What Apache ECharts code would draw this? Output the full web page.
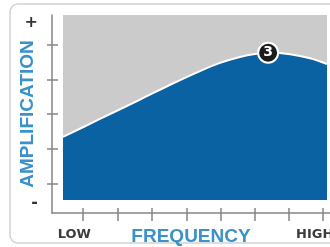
<!DOCTYPE html>
<html>
<head>
<meta charset="utf-8">
<script src="https://cdn.jsdelivr.net/npm/echarts@6/dist/echarts.min.js"></script>
<style>
  html, body { margin: 0; padding: 0; background: #fff; }
  #chart { width: 330px; height: 247px; }
</style>
</head>
<body>
<div id="chart"></div>
<script>
  // response curve, x = frequency (0..100), y = amplification (0..100)
  var freqX = [0, 14.0, 29.2, 42.4, 51.9, 59.5, 67.0, 72.7, 78.4, 86.0, 93.6, 100]
  var ampY = [34.1, 43.8, 54.3, 63.5, 69.7, 74.1, 77.3, 78.9, 79.6, 78.8, 76.6, 73.5]
  var peakPoint = [77.7, 79.6]
  var peakLabel = '3'

  var xTicks = [11, 23.5, 36, 48.5, 60.75, 73, 85.25, 97.5]
  var yTicks = [15, 32.5, 50, 67.5, 85]
  var xLabelPos = [8, 94.5]
  var xLabelText = ['LOW', 'HIGH']
  var yLabelPos = [5, 96]
  var yLabelText = ['-', '+']

  var axisGray = '#858585'
  var nameBlue = '#3a92c8'

  var chart = echarts.init(document.getElementById('chart'))

  var curve = freqX.map(function (x, i) { return [x, ampY[i]] })

  chart.setOption({
    backgroundColor: '#fff',
    animation: false,
    graphic: [{
      type: 'rect',
      z: -10,
      shape: { x: 10, y: 4, width: 340, height: 239, r: 8 },
      style: { fill: '#fff', stroke: '#d2d2d2', lineWidth: 1.5 }
    }],
    grid: [
      { left: 52, right: 0, top: 15, bottom: 34, outerBoundsMode: 'none', containLabel: false },
      { left: 63, right: 3, top: 15, bottom: 47, outerBoundsMode: 'none', containLabel: false,
        show: true, backgroundColor: '#cbcbcb', borderWidth: 0 }
    ],
    xAxis: [
      {
        gridIndex: 0, type: 'value', min: 0, max: 100, position: 'bottom',
        splitLine: { show: false },
        axisLine: { show: true, lineStyle: { color: axisGray, width: 1.5 } },
        axisTick: { show: true, inside: false, length: 8, customValues: xTicks, lineStyle: { color: axisGray, width: 1.5 } },
        axisLabel: {
          show: true, customValues: xLabelPos, margin: 15,
          color: '#3c3c3c', fontWeight: 'bold', fontSize: 13, fontFamily: 'DejaVu Sans',
          formatter: function (v) { return xLabelText[xLabelPos.indexOf(v)] }
        },
        name: 'FREQUENCY', nameLocation: 'middle', nameGap: 14, nameMoveOverlap: false,
        nameTextStyle: { color: nameBlue, fontWeight: 'bold', fontSize: 19, fontFamily: 'Liberation Sans', verticalAlign: 'top' }
      },
      {
        gridIndex: 0, type: 'value', min: 0, max: 100, position: 'bottom', offset: 0,
        splitLine: { show: false },
        axisLine: { show: false },
        axisTick: { show: true, inside: true, length: 5, customValues: xTicks, lineStyle: { color: axisGray, width: 1.5 } },
        axisLabel: { show: false }
      },
      {
        gridIndex: 1, type: 'value', min: 0, max: 100, show: false
      }
    ],
    yAxis: [
      {
        gridIndex: 0, type: 'value', min: 0, max: 100, position: 'left',
        splitLine: { show: false },
        axisLine: { show: true, lineStyle: { color: axisGray, width: 1.5 } },
        axisTick: { show: true, inside: false, length: 5, customValues: yTicks, lineStyle: { color: axisGray, width: 1.5 } },
        axisLabel: {
          show: true, customValues: yLabelPos, margin: 14,
          color: '#333', fontWeight: 'bold', fontSize: 16, fontFamily: 'DejaVu Sans',
          formatter: function (v) { return yLabelText[yLabelPos.indexOf(v)] }
        },
        name: 'AMPLIFICATION', nameLocation: 'middle', nameGap: 15, nameRotate: 90, nameMoveOverlap: false,
        nameTextStyle: { color: nameBlue, fontWeight: 'bold', fontSize: 19, fontFamily: 'Liberation Sans', verticalAlign: 'bottom' }
      },
      {
        gridIndex: 0, type: 'value', min: 0, max: 100, position: 'left', offset: 0,
        splitLine: { show: false },
        axisLine: { show: false },
        axisTick: { show: true, inside: true, length: 6, customValues: yTicks, lineStyle: { color: axisGray, width: 1.5 } },
        axisLabel: { show: false }
      },
      {
        gridIndex: 1, type: 'value', min: 0, max: 100, show: false
      }
    ],
    series: [{
      type: 'line',
      xAxisIndex: 2,
      yAxisIndex: 2,
      data: curve,
      smooth: 0.3,
      symbol: 'none',
      lineStyle: { color: '#ffffff', width: 2 },
      areaStyle: { color: '#0a62a3', opacity: 1 },
      markPoint: {
        symbol: 'circle',
        symbolSize: 20,
        itemStyle: { color: '#1c1c1c', borderColor: '#ffffff', borderWidth: 2 },
        label: { show: true, color: '#fff', fontWeight: 'bold', fontSize: 14, fontFamily: 'DejaVu Sans', formatter: peakLabel },
        data: [{ coord: peakPoint }]
      }
    }]
  })
</script>
</body>
</html>
